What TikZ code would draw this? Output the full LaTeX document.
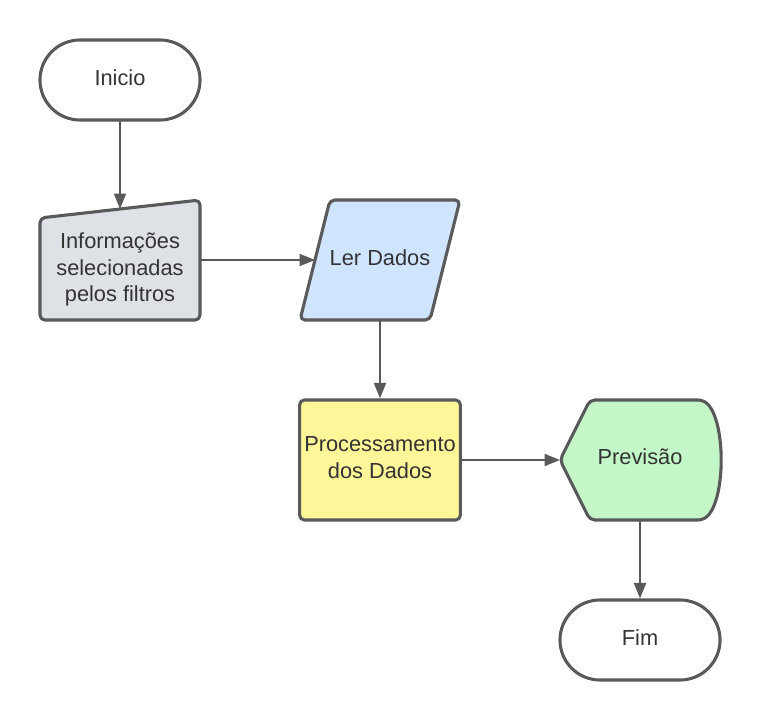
\documentclass[tikz,border=0pt]{standalone}
\usepackage{fontspec}
\setmainfont{Liberation Sans}
\usetikzlibrary{arrows.meta}
\definecolor{linha}{HTML}{595959}
\definecolor{texto}{HTML}{333333}
\definecolor{cinza}{HTML}{DEE1E6}
\definecolor{azul}{HTML}{CFE4FF}
\definecolor{amarelo}{HTML}{FFF599}
\definecolor{verde}{HTML}{C3F7C8}
\begin{document}
\begin{tikzpicture}[x=0.025cm, y=-0.025cm, line join=round, line cap=round,
    font=\fontsize{15.5}{19}\selectfont,
    forma/.style={draw=linha, line width=2.2pt, rounded corners=3.5pt},
    seta/.style={draw=linha, line width=1.4pt, -{Triangle[length=11pt,width=8.5pt]}},
    txt/.style={text=texto, align=center, text depth=4pt}]
                \useasboundingbox (0,0) rectangle (760,720);
                % terminais e processo
                \node[forma, txt, rounded corners=1cm, minimum width=4cm, minimum height=2cm] (ini) at (120,80) {Inicio};
                \node[forma, txt, fill=amarelo, minimum width=4cm, minimum height=3cm] (proc) at (380,460) {Processamento\\dos Dados};
                \node[forma, txt, rounded corners=1cm, minimum width=4cm, minimum height=2cm] (fim) at (640,640) {Fim};
                % entrada manual
                \draw[forma, fill=cinza] (40,218) -- (200,200) -- (200,320) -- (40,320) -- cycle;
                \node[txt] (info) at (120,270) {Informações\\selecionadas\\pelos filtros};
                \coordinate (info-n) at (120,209);
                \coordinate (info-e) at (200,260);
                % dados
                \draw[forma, fill=azul] (330,200) -- (460,200) -- (430,320) -- (300,320) -- cycle;
                \node[txt] (ler) at (380,260) {Ler Dados};
                \coordinate (ler-w) at (315,260);
                \coordinate (ler-s) at (380,320);
                % exibicao
                \draw[forma, fill=verde] (560,460) -- (590,400) -- (703,400)
                    .. controls (726,420) and (726,500) .. (703,520) -- (590,520) -- cycle;
                \node[txt] (prev) at (640,459) {Previsão};
                \coordinate (prev-w) at (560,460);
                \coordinate (prev-s) at (640,520);
                % conectores
                \draw[seta] (ini.south) -- (info-n);
                \draw[seta] (info-e) -- (ler-w);
                \draw[seta] (ler-s) -- (proc.north);
                \draw[seta] (proc.east) -- (prev-w);
                \draw[seta] (prev-s) -- (fim.north);
\end{tikzpicture}
\end{document}
